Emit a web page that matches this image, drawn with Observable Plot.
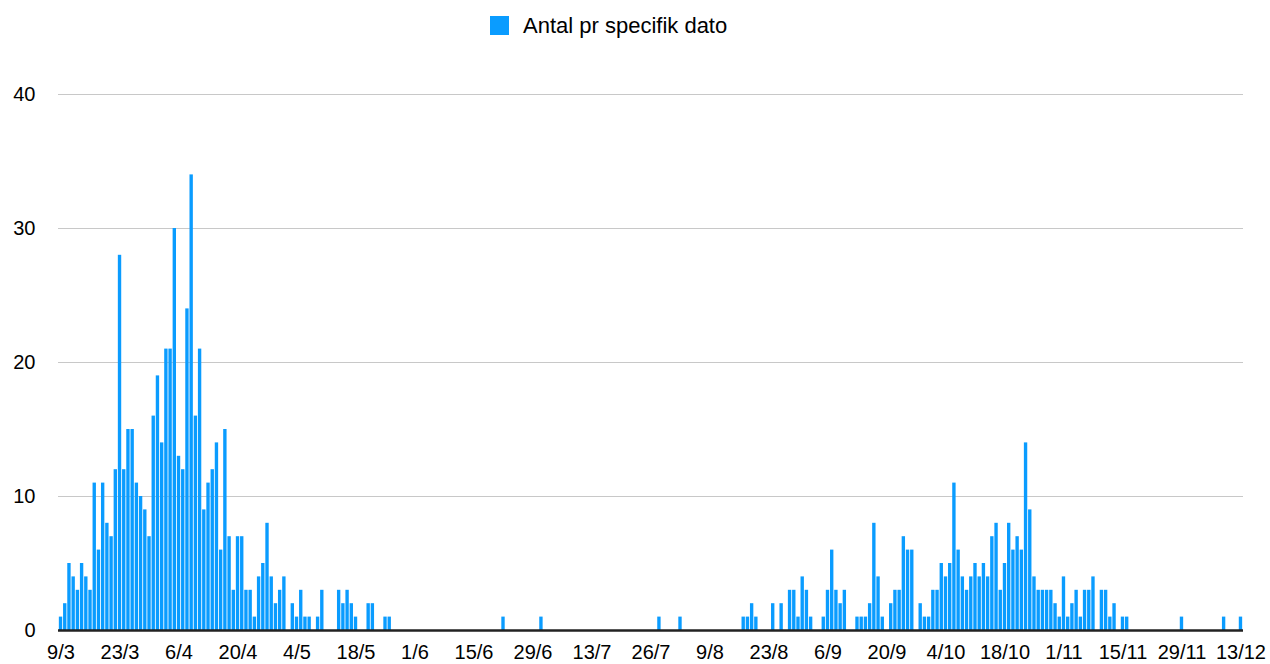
<!DOCTYPE html>
<html>
<head>
<meta charset="utf-8">
<script src="https://cdn.jsdelivr.net/npm/d3@7"></script>
<script src="https://cdn.jsdelivr.net/npm/@observablehq/plot@0.6"></script>
<style>
  html, body { margin: 0; padding: 0; background: #fff; }
  body { width: 1270px; height: 664px; overflow: hidden; font-family: "Helvetica Neue", Helvetica, Arial, "Liberation Sans", sans-serif; color: #000; }
  #legend { position: relative; height: 50px; }
  #legend .sw { position: absolute; left: 490px; top: 16px; width: 19px; height: 19px; background: #0a9cff; }
  #legend .lbl { position: absolute; left: 523px; top: 14px; font-size: 22px; line-height: 24px; white-space: nowrap; }
  #chart svg { display: block; }
</style>
</head>
<body>
<div id="legend"><span class="sw"></span><span class="lbl" id="lbl"></span></div>
<div id="chart"></div>
<script>
const seriesName = "Antal pr specifik dato";
const barColor = "#0a9cff";

// x-axis tick labels (one every 14 categories, from 9/3 to 13/12)
const tickLabels = ["9/3","23/3","6/4","20/4","4/5","18/5","1/6","15/6","29/6","13/7","26/7",
                    "9/8","23/8","6/9","20/9","4/10","18/10","1/11","15/11","29/11","13/12"];
const tickStep = 14;

// daily counts, one per category (281 categories)
const counts = [
  // 0-49
  1,2,5,4,3,5,4,3,11,6, 11,8,7,12,28,12,15,15,11,10,
  9,7,16,19,14,21,21,30,13,12, 24,34,16,21,9,11,12,14,6,15,
  7,3,7,7,3,3,1,4,5,8,
  // 50-99
  4,2,3,4,0,2,1,3,1,1, 0,1,3,0,0,0,3,2,3,2,
  1,0,0,2,2,0,0,1,1,0, 0,0,0,0,0,0,0,0,0,0,
  0,0,0,0,0,0,0,0,0,0,
  // 100-149
  0,0,0,0,0,1,0,0,0,0, 0,0,0,0,1,0,0,0,0,0,
  0,0,0,0,0,0,0,0,0,0, 0,0,0,0,0,0,0,0,0,0,
  0,0,1,0,0,0,0,1,0,0,
  // 150-199
  0,0,0,0,0,0,0,0,0,0, 0,0,1,1,2,1,0,0,0,2,
  0,2,0,3,3,1,4,3,1,0, 0,1,3,6,3,2,3,0,0,1,
  1,1,2,8,4,1,0,2,3,3,
  // 200-249
  7,6,6,0,2,1,1,3,3,5, 4,5,11,6,4,3,4,5,4,5,
  4,7,8,3,5,8,6,7,6,14, 9,4,3,3,3,3,2,1,4,1,
  2,3,1,3,3,4,0,3,3,1,
  // 250-280
  2,0,1,1,0,0,0,0,0,0, 0,0,0,0,0,0,1,0,0,0,
  0,0,0,0,0,0,1,0,0,0, 1
];

const yTicks = [0, 10, 20, 30, 40];

document.getElementById("lbl").textContent = seriesName;

const data = counts.map((v, i) => ({i, v}));
const tickPositions = tickLabels.map((_, k) => k * tickStep);

const chart = Plot.plot({
  width: 1270,
  height: 614,
  marginLeft: 58,
  marginRight: 27,
  marginTop: 44,
  marginBottom: 34,
  style: {fontFamily: "\"Helvetica Neue\", Helvetica, Arial, \"Liberation Sans\", sans-serif", color: "#000", background: "#fff"},
  x: {type: "band", domain: d3.range(counts.length), padding: 0.2, axis: null},
  y: {domain: [0, 40], axis: null},
  marks: [
    Plot.gridY(yTicks.slice(1), {stroke: "#c8c8c8", strokeOpacity: 1, strokeWidth: 1}),
    Plot.barY(data, {x: "i", y: "v", fill: barColor}),
    Plot.ruleY([0], {stroke: "#222", strokeWidth: 2.5}),
    Plot.axisY(yTicks, {tickSize: 0, tickPadding: 23, fontSize: 20, label: null}),
    Plot.axisX(tickPositions, {tickSize: 0, tickPadding: 14, fontSize: 20, label: null,
      tickFormat: d => tickLabels[tickPositions.indexOf(d)]})
  ]
});
document.getElementById("chart").appendChild(chart);
</script>
</body>
</html>
